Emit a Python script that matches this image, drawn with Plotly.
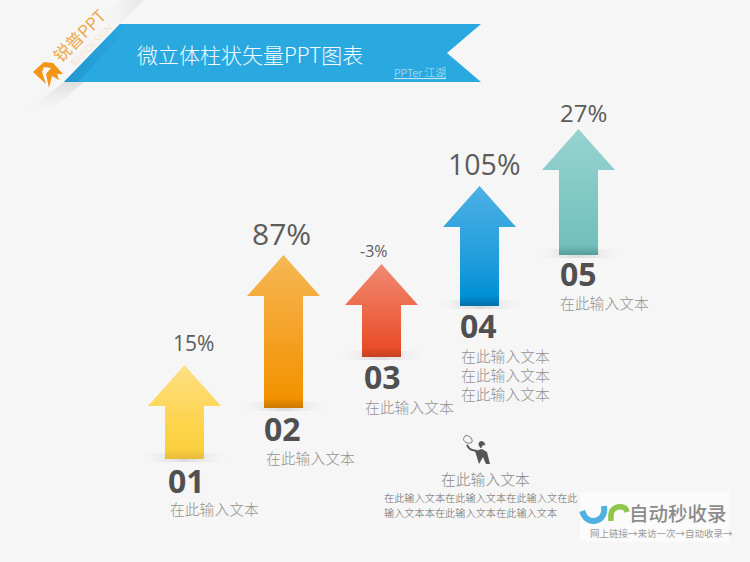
import plotly.graph_objects as go

# ---- data ----
categories = ["01", "02", "03", "04", "05"]
percent_labels = ["15%", "87%", "-3%", "105%", "27%"]
percent_sizes = [21, 30, 16, 28.5, 24]
percent_x = [193, 281, 374, 484, 583]
percent_y = [343, 233, 251, 164, 112]
arrow_center = [184.5, 283.5, 381.5, 479.5, 578.5]
arrow_tip = [365, 255, 264, 186, 129]
arrow_base = [459, 408, 357, 306, 255]
arrow_colors = [
    ["#fddf85", "#fdd34a", "#fbd03f", "#e8bb3c"],
    ["#f6b855", "#f49c1a", "#f39200", "#c97a04"],
    ["#f08a72", "#ec5f3e", "#e94e2a", "#c2421f"],
    ["#4db0e4", "#1e9cdb", "#0090d5", "#026fa8"],
    ["#98d3d0", "#7cc5c2", "#72bfbc", "#569c9a"],
]
note_text = "在此输入文本"
note_lines = [[note_text], [note_text], [note_text], [note_text] * 3, [note_text]]
note_x = [170, 266, 365, 461, 560]
note_y = [508, 457, 406, 355, 302]
number_x = [168, 264, 364, 460, 560]
number_y = [480, 428, 376, 325, 273]
title = "微立体柱状矢量PPT图表"
author = "PPTer 江湖"
footer_lines = ["在此输入文本在此输入文本在此输入文在此", "输入文本本在此输入文本在此输入文本"]

BG = "#f6f6f6"
CJK = "Noto Sans CJK SC"
LATIN = "Open Sans"
HEAD_H, HEAD_W, SHAFT_W = 41, 36.5, 19.5

fig = go.Figure()


def poly(xs, ys, color=None, grad=None, gtype="vertical"):
    kw = dict(x=list(xs) + [xs[0]], y=list(ys) + [ys[0]], mode="none", fill="toself",
              hoverinfo="skip", showlegend=False)
    if grad:
        kw["fillgradient"] = dict(type=gtype, colorscale=grad)
    else:
        kw["fillcolor"] = color
    fig.add_trace(go.Scatter(**kw))


def stroke(xs, ys, color, width):
    fig.add_trace(go.Scatter(x=xs, y=ys, mode="lines", hoverinfo="skip", showlegend=False,
                             line=dict(color=color, width=width, shape="spline")))


def text(x, y, s, size, color, font=CJK, anchor="left", weight=None, angle=0):
    f = dict(size=size, color=color, family=font)
    if weight:
        f["weight"] = weight
    fig.add_annotation(x=x, y=y, text=s, showarrow=False, xanchor=anchor, yanchor="middle",
                       font=f, textangle=angle, xref="x", yref="y", borderpad=0, borderwidth=0)


# ---- soft shadows of the folded corner ----
poly([144, 120, 96, 122], [0, 24, 24, 0],
     grad=[[0, "rgba(246,246,246,0)"], [1, "rgba(226,226,226,0.8)"]], gtype="horizontal")
poly([64, 84, 58, 30, 26], [82, 82, 104, 118, 112],
     grad=[[0, "rgba(246,246,246,0)"], [1, "rgba(218,218,218,0.85)"]])

# ---- title ribbon ----
poly([120, 481, 447, 481, 64], [24, 24, 53, 82, 82], color="#2aa9e1")
poly([120, 132, 78, 64], [24, 24, 82, 82],
     grad=[[0, "#2497cf"], [1, "#2aa9e1"]], gtype="horizontal")

# ---- logo ----
poly([33, 44, 53, 63, 57, 59, 52, 49, 46, 51, 44, 42, 46],
     [72, 62, 63, 74, 74, 80, 76, 88, 74, 68, 67, 72, 84], color="#f39516")
text(78, 35, "锐普PPT", 17, "#efa84a", angle=-45, anchor="center")
text(91, 45, "RAPIDESIGN", 9.5, "#f3d9b2", font="Lato", angle=-45, anchor="center", weight=300)

# ---- arrows, drawn from the arrays ----
for i, c in enumerate(categories):
    x0, tip, base = arrow_center[i], arrow_tip[i], arrow_base[i]
    # contact shadow
    poly([x0 - 46, x0 + 46, x0 + 46, x0 - 46], [base - 6, base - 6, base + 3, base + 3],
         grad=[[0, "rgba(246,246,246,0)"], [0.3, "rgba(228,228,228,0.7)"], [0.5, "rgba(215,215,215,0.85)"],
               [0.7, "rgba(228,228,228,0.7)"], [1, "rgba(246,246,246,0)"]], gtype="horizontal")
    col = arrow_colors[i]
    h = (base - tip)
    pos = 10 / h
    # vertical gradients run from the bottom of the shape (0) to its top (1)
    grad = [[0, col[3]], [pos, col[2]], [0.35, col[1]], [1, col[0]]]
    poly([x0, x0 + HEAD_W, x0 + SHAFT_W, x0 + SHAFT_W, x0 - SHAFT_W, x0 - SHAFT_W, x0 - HEAD_W],
         [tip, tip + HEAD_H, tip + HEAD_H, base, base, tip + HEAD_H, tip + HEAD_H], grad=grad)
    text(percent_x[i], percent_y[i], percent_labels[i], percent_sizes[i], "#5c5c5c", font=LATIN, anchor="center")
    text(number_x[i], number_y[i], c, 32, "#505050", font=LATIN, weight=700)
    for j, line in enumerate(note_lines[i]):
        text(note_x[i], note_y[i] + j * 19, line, 14.8, "#929292", weight=300)

# ---- ribbon texts ----
text(137, 54, title, 21, "#f2fafe", weight=300)
text(394, 72, "<u>" + author + "</u>", 10.8, "#c2e4f5", weight=300)

# ---- footer block with icon ----
poly([475, 482, 487, 490, 486, 483, 479], [451, 449, 452, 464, 464, 457, 464], color="#555555")
stroke([483, 481.5, 483], [445.5, 444, 446.5], "#555555", 6)
stroke([467, 470, 477], [445, 449, 451], "#555555", 2)
stroke([467, 463.5, 466, 471, 472, 467], [443, 439.5, 435.5, 438, 442, 443], "#777777", 1)
text(485, 478, note_text, 14.8, "#888888", anchor="center", weight=300)
for j, line in enumerate(footer_lines):
    text(384, 497.5 + j * 15, line, 10.2, "#666666", weight=300)

# ---- watermark ----
poly([580, 730, 730, 580], [492, 492, 542, 542], color="#fbfbfb")
stroke([582, 586, 593, 601, 604, 604], [511, 518, 521, 518, 512, 506], "#4fb0e2", 6)
stroke([611, 612, 618, 625, 627], [521, 511, 507, 508, 512], "#8fc74a", 5.5)
text(629, 512, "自动秒收录", 19.5, "#8c8c8c", weight=500)
text(590, 533, "网上链接→来访一次→自动收录→", 9.5, "#9a9a9a")

fig.update_layout(
    width=750, height=562, autosize=False,
    margin=dict(l=0, r=0, t=0, b=0, pad=0),
    paper_bgcolor=BG, plot_bgcolor=BG, showlegend=False,
    xaxis=dict(range=[0, 750], visible=False, fixedrange=True),
    yaxis=dict(range=[562, 0], visible=False, fixedrange=True),
)
fig.write_html("out.html", config={"displayModeBar": False},
               post_script="document.body.style.margin='0';document.body.style.background='%s';" % BG)
